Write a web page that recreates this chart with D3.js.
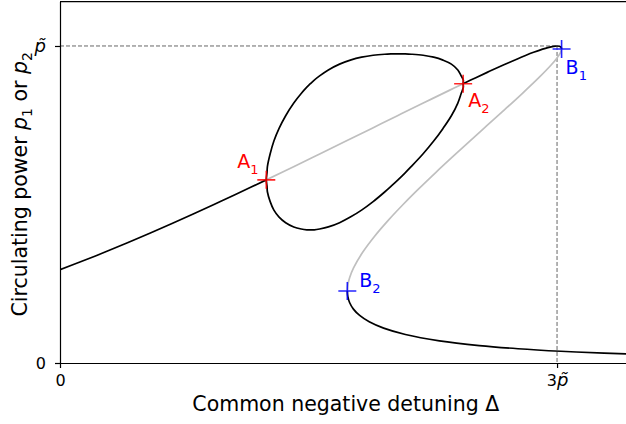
<!DOCTYPE html>
<html>
<head>
<meta charset="utf-8">
<script src="https://cdn.jsdelivr.net/npm/d3@7"></script>
<style>
  body { margin: 0; background: #fff; }
  svg { font-family: "DejaVu Sans", sans-serif; display: block; }
  .axis path, .axis line { stroke: #000; stroke-width: 1.2; }
  .axis text { font-size: 16px; fill: #000; font-family: "DejaVu Sans", sans-serif; }
</style>
</head>
<body>
<div id="chart"></div>
<script>
// values, in units of p~ (x: detuning, y: circulating power)

// symmetric solution, stable part from Delta = 0 up to A1
const symLeft = [[0,0.2945],[0.128,0.32],[0.2722,0.35],[0.411,0.38],[0.5454,0.41],[0.6761,0.44],
  [0.8039,0.47],[0.9293,0.50],[1.0526,0.53],[1.154,0.555],[1.2451,0.5777]];

// symmetric solution between A1 and A2 (unstable, grey)
const symMid = [[1.2451,0.5777],[1.4132,0.62],[1.5704,0.66],[1.7264,0.70],[1.8817,0.74],
  [2.0369,0.78],[2.1926,0.82],[2.3497,0.86],[2.4333,0.881]];

// symmetric solution from A2 up to the fold B1
const symTop = [[2.4333,0.881],[2.5098,0.90],[2.5917,0.92],[2.6758,0.94],[2.7635,0.96],[2.8096,0.97],
  [2.8585,0.98],[2.9126,0.99],[2.9445,0.995],[2.979,0.999],[3.0,1.0],[3.015,0.999],[3.0255,0.995],[3.0274,0.9907]];

// middle branch B1 -> B2 (unstable, grey)
const symFold = [[3.0274,0.9907],[3.0215,0.98],[2.9965,0.96],[2.9642,0.94],[2.8902,0.90],[2.7898,0.85],
  [2.6854,0.80],[2.5795,0.75],[2.4736,0.70],[2.3688,0.65],[2.266,0.60],[2.1662,0.55],[2.0707,0.50],
  [1.981,0.45],[1.899,0.40],[1.8278,0.35],[1.7718,0.30],[1.7485,0.27],[1.7385,0.25],[1.7342,0.2271]];

// lower stable branch from B2 to the right
const symLow = [[1.7342,0.2271],[1.737,0.21],[1.7484,0.19],[1.7711,0.17],[1.8086,0.15],[1.8664,0.13],
  [1.9534,0.11],[2.0848,0.09],[2.2903,0.07],[2.5307,0.055],[2.7642,0.045],[3.0227,0.037],[3.2839,0.031],[3.5071,0.027]];

// symmetry broken loop (p1 and p2 together), closed
const loop = [
  [1.2451,0.5777],[1.2494,0.60],[1.2520,0.62],[1.2686,0.66],[1.2910,0.70],[1.3223,0.74],[1.3621,0.78],
  [1.4110,0.82],[1.4559,0.85],[1.4898,0.87],[1.5109,0.881],[1.5348,0.8925],[1.5669,0.9056],[1.6196,0.9244],
  [1.6874,0.9428],[1.7524,0.9553],[1.8201,0.9647],[1.8900,0.9708],[1.9595,0.9740],[1.9987,0.9749],[2.0399,0.9753],
  [2.0833,0.9749],[2.1207,0.9740],[2.1918,0.9708],[2.2555,0.9647],[2.3118,0.9553],[2.3622,0.9428],[2.4012,0.9244],
  [2.4213,0.9056],[2.4344,0.8925],[2.4333,0.881],[2.4344,0.87],[2.4213,0.85],[2.4012,0.82],[2.3622,0.78],
  [2.3118,0.74],[2.2555,0.70],[2.1918,0.66],[2.1207,0.62],[2.0833,0.60],[2.0399,0.5777],[1.9987,0.5577],
  [1.9595,0.5394],[1.8900,0.5091],[1.8201,0.4823],[1.7524,0.4603],[1.6874,0.4426],[1.6196,0.4292],[1.5669,0.4228],
  [1.5348,0.4202],[1.5109,0.4198],[1.4898,0.4202],[1.4559,0.4228],[1.4110,0.4292],[1.3621,0.4426],[1.3223,0.4603],
  [1.2910,0.4823],[1.2686,0.5091],[1.2520,0.5394],[1.2494,0.5577]];

// marked points
const pointNames = ["A", "A", "B", "B"];
const pointSubs = ["1", "2", "1", "2"];
const pointXY = [[1.2451,0.5777],[2.4333,0.881],[3.0274,0.9907],[1.7342,0.2271]];

// ticks
const xTicks = [0, 3];
const xTickLabels = [["0", ""], ["3", "p\u0303"]];
const yTicks = [0, 1];
const yTickLabels = [["0", ""], ["", "p\u0303"]];

const pTilde = 1;   // dashed guide at p~ and 3p~

// ---- drawing ----
const W = 626, H = 424;
const svg = d3.select("#chart").append("svg").attr("width", W).attr("height", H);

const x = d3.scaleLinear().domain([0, 3.45]).range([60, 631.6]);
const y = d3.scaleLinear().domain([0, 1.14]).range([363, 1.6]);

svg.append("clipPath").attr("id", "plotclip")
  .append("rect").attr("x", x(0)).attr("y", y(1.14)).attr("width", x(3.45) - x(0)).attr("height", y(0) - y(1.14));

const plot = svg.append("g").attr("clip-path", "url(#plotclip)");

// dashed guides
plot.append("line")
  .attr("x1", x(0)).attr("x2", x(3 * pTilde)).attr("y1", y(pTilde)).attr("y2", y(pTilde))
  .attr("stroke", "#666").attr("stroke-width", 1).attr("stroke-dasharray", "4,2");
plot.append("line")
  .attr("x1", x(3 * pTilde)).attr("x2", x(3 * pTilde)).attr("y1", y(pTilde)).attr("y2", y(0))
  .attr("stroke", "#666").attr("stroke-width", 1).attr("stroke-dasharray", "4,2");

const line = d3.line().x(d => x(d[0])).y(d => y(d[1])).curve(d3.curveCatmullRom.alpha(0.5));
const loopLine = d3.line().x(d => x(d[0])).y(d => y(d[1])).curve(d3.curveCatmullRomClosed.alpha(0.5));

const grey = "#bfbfbf", black = "#000";
[[symMid, grey], [symFold, grey], [symLeft, black], [symTop, black], [symLow, black]].forEach(s => {
  plot.append("path").datum(s[0]).attr("d", line)
    .attr("fill", "none").attr("stroke", s[1]).attr("stroke-width", 1.7);
});
plot.append("path").datum(loop).attr("d", loopLine)
  .attr("fill", "none").attr("stroke", black).attr("stroke-width", 1.7);

// axes
const xAxis = svg.append("g").attr("class", "axis")
  .attr("transform", `translate(0,${y(0)})`)
  .call(d3.axisBottom(x).tickValues(xTicks).tickSize(5).tickSizeOuter(0).tickPadding(7));
const yAxis = svg.append("g").attr("class", "axis")
  .attr("transform", `translate(${x(0)},0)`)
  .call(d3.axisLeft(y).tickValues(yTicks).tickSize(5).tickSizeOuter(0).tickPadding(9));

function mathLabel(sel, labels) {
  sel.selectAll(".tick text").each(function(d, i) {
    const t = d3.select(this).text(null);
    t.append("tspan").text(labels[i][0]);
    if (labels[i][1]) t.append("tspan").attr("font-style", "italic").attr("font-size", 18).text(labels[i][1]);
  });
}
mathLabel(xAxis, xTickLabels);
mathLabel(yAxis, yTickLabels);

// top spine
svg.append("line").attr("x1", x(0)).attr("x2", x(3.45)).attr("y1", y(1.14)).attr("y2", y(1.14))
  .attr("stroke", "#000").attr("stroke-width", 1.2);

// markers + labels
const colors = ["#ff0000", "#ff0000", "#0000ff", "#0000ff"];
const offs = [[-29, -12], [5, 23], [4, 25], [12, -4]];
pointXY.forEach((p, i) => {
  const cx = x(p[0]), cy = y(p[1]);
  svg.append("path")
    .attr("d", `M${cx - 9},${cy}H${cx + 9}M${cx},${cy - 9}V${cy + 9}`)
    .attr("stroke", colors[i]).attr("stroke-width", 1.6).attr("opacity", 0.85);
  const t = svg.append("text").attr("x", cx + offs[i][0]).attr("y", cy + offs[i][1])
    .attr("fill", colors[i]).attr("font-size", 19);
  t.append("tspan").text(pointNames[i]);
  t.append("tspan").attr("font-size", 13).attr("dy", 6).text(pointSubs[i]);
});

// axis titles
svg.append("text").attr("x", (x(0) + x(3.45)) / 2).attr("y", 411)
  .attr("text-anchor", "middle").attr("font-size", 20.5).text("Common negative detuning \u0394");

const yl = svg.append("text").attr("transform", `translate(27,${(y(0) + y(1.14)) / 2 + 2}) rotate(-90)`)
  .attr("text-anchor", "middle").attr("font-size", 20.5);
yl.append("tspan").text("Circulating power ");
yl.append("tspan").attr("font-style", "italic").text("p");
yl.append("tspan").attr("font-size", 14).attr("dy", 5).text("1");
yl.append("tspan").attr("dy", -5).text(" or ");
yl.append("tspan").attr("font-style", "italic").text("p");
yl.append("tspan").attr("font-size", 14).attr("dy", 5).text("2");
</script>
</body>
</html>
